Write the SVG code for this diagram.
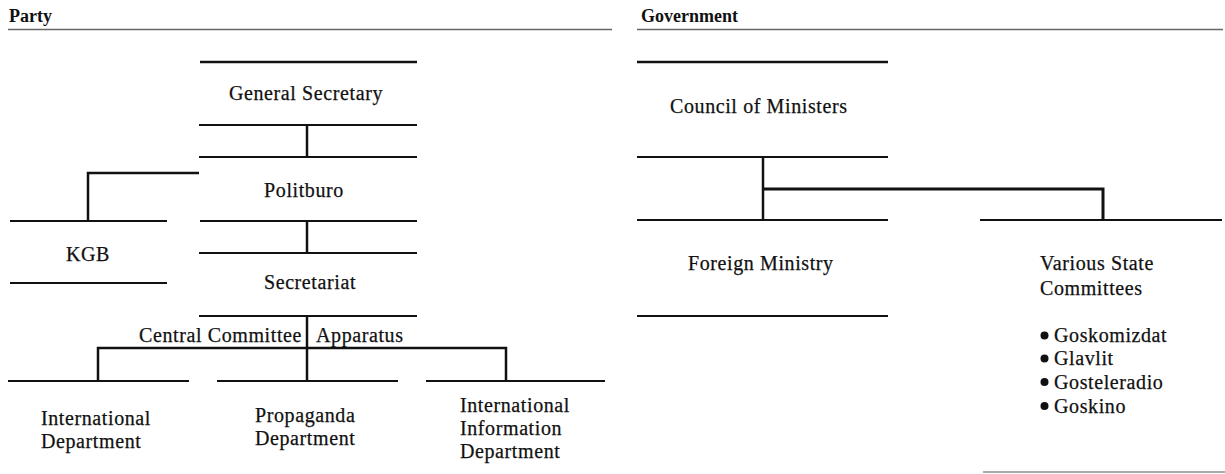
<svg xmlns="http://www.w3.org/2000/svg" width="1225" height="474" viewBox="0 0 1225 474">
<style>
  .bg{fill:#fff}
  .t{font-family:"Liberation Serif","Times New Roman",serif;font-size:20px;letter-spacing:0.6px;fill:#111;stroke:#111;stroke-width:0.25}
  .h{font-family:"Liberation Serif","Times New Roman",serif;font-size:18px;font-weight:bold;fill:#111}
  .rule{stroke:#666;stroke-width:1.5;fill:none}
  .ln{stroke:#111;stroke-width:2;fill:none}
  .cn{stroke:#111;stroke-width:2.5;fill:none}
  .m{text-anchor:middle}
</style>
<rect class="bg" x="0" y="0" width="1225" height="474"/>

<g id="headers">
  <text class="h" x="9" y="22">Party</text>
  <line class="rule" x1="8" y1="29.5" x2="612" y2="29.5"/>
  <text class="h" x="641" y="22">Government</text>
  <line class="rule" x1="637" y1="29.5" x2="1223" y2="29.5"/>
</g>

<g id="connectors">
  <line class="cn" x1="307" y1="125" x2="307" y2="157"/>
  <polyline class="cn" points="199,173 88,173 88,221"/>
  <line class="cn" x1="307" y1="221" x2="307" y2="253"/>
  <line class="cn" x1="307" y1="316" x2="307" y2="381"/>
  <polyline class="cn" points="98,381 98,348 506,348 506,381"/>
  <line class="cn" x1="763" y1="157" x2="763" y2="220"/>
  <polyline class="cn" style="stroke-width:3" points="763,189 1103,189 1103,220"/>
</g>

<g id="general-secretary">
  <line class="ln" x1="200" y1="62" x2="417" y2="62" style="stroke-width:2.5"/>
  <text class="t m" x="306" y="100">General Secretary</text>
  <line class="ln" x1="199" y1="125" x2="417" y2="125"/>
</g>

<g id="politburo">
  <line class="ln" x1="199" y1="157" x2="417" y2="157"/>
  <text class="t m" x="304" y="197">Politburo</text>
  <line class="ln" x1="200" y1="221" x2="417" y2="221"/>
</g>

<g id="kgb">
  <line class="ln" x1="10" y1="221" x2="167" y2="221"/>
  <text class="t m" x="88" y="261">KGB</text>
  <line class="ln" x1="10" y1="283" x2="167" y2="283"/>
</g>

<g id="secretariat">
  <line class="ln" x1="199" y1="253" x2="417" y2="253"/>
  <text class="t m" x="310" y="289">Secretariat</text>
  <line class="ln" x1="199" y1="316" x2="417" y2="316"/>
</g>

<g id="central-committee-apparatus">
  <text class="t" x="302" y="342" text-anchor="end">Central Committee</text>
  <text class="t" x="316" y="342">Apparatus</text>
</g>

<g id="international-department">
  <line class="ln" x1="8" y1="381" x2="189" y2="381"/>
  <text class="t" x="41" y="425">International</text>
  <text class="t" x="41" y="448">Department</text>
</g>

<g id="propaganda-department">
  <line class="ln" x1="217" y1="381" x2="398" y2="381"/>
  <text class="t" x="255" y="422">Propaganda</text>
  <text class="t" x="255" y="445">Department</text>
</g>

<g id="international-information-department">
  <line class="ln" x1="426" y1="381" x2="605" y2="381"/>
  <text class="t" x="460" y="412">International</text>
  <text class="t" x="460" y="435">Information</text>
  <text class="t" x="460" y="458">Department</text>
</g>

<g id="council-of-ministers">
  <line class="ln" x1="637" y1="62" x2="888" y2="62" style="stroke-width:2.5"/>
  <text class="t" x="670" y="113">Council of Ministers</text>
  <line class="ln" x1="637" y1="157" x2="888" y2="157"/>
</g>

<g id="foreign-ministry">
  <line class="ln" x1="637" y1="220" x2="888" y2="220"/>
  <text class="t" x="688" y="270">Foreign Ministry</text>
  <line class="ln" x1="637" y1="316" x2="888" y2="316"/>
</g>

<g id="various-state-committees">
  <line class="ln" x1="980" y1="220" x2="1222" y2="220"/>
  <text class="t" x="1040" y="270">Various State</text>
  <text class="t" x="1040" y="295">Committees</text>
  <circle cx="1044.5" cy="335.5" r="4" fill="#111"/>
  <text class="t" x="1054" y="342">Goskomizdat</text>
  <circle cx="1044.5" cy="358.5" r="4" fill="#111"/>
  <text class="t" x="1054" y="365">Glavlit</text>
  <circle cx="1044.5" cy="382" r="4" fill="#111"/>
  <text class="t" x="1054" y="389">Gosteleradio</text>
  <circle cx="1044.5" cy="406" r="4" fill="#111"/>
  <text class="t" x="1054" y="413">Goskino</text>
  <line x1="983" y1="472" x2="1225" y2="472" stroke="#aaa" stroke-width="2"/>
</g>
</svg>
